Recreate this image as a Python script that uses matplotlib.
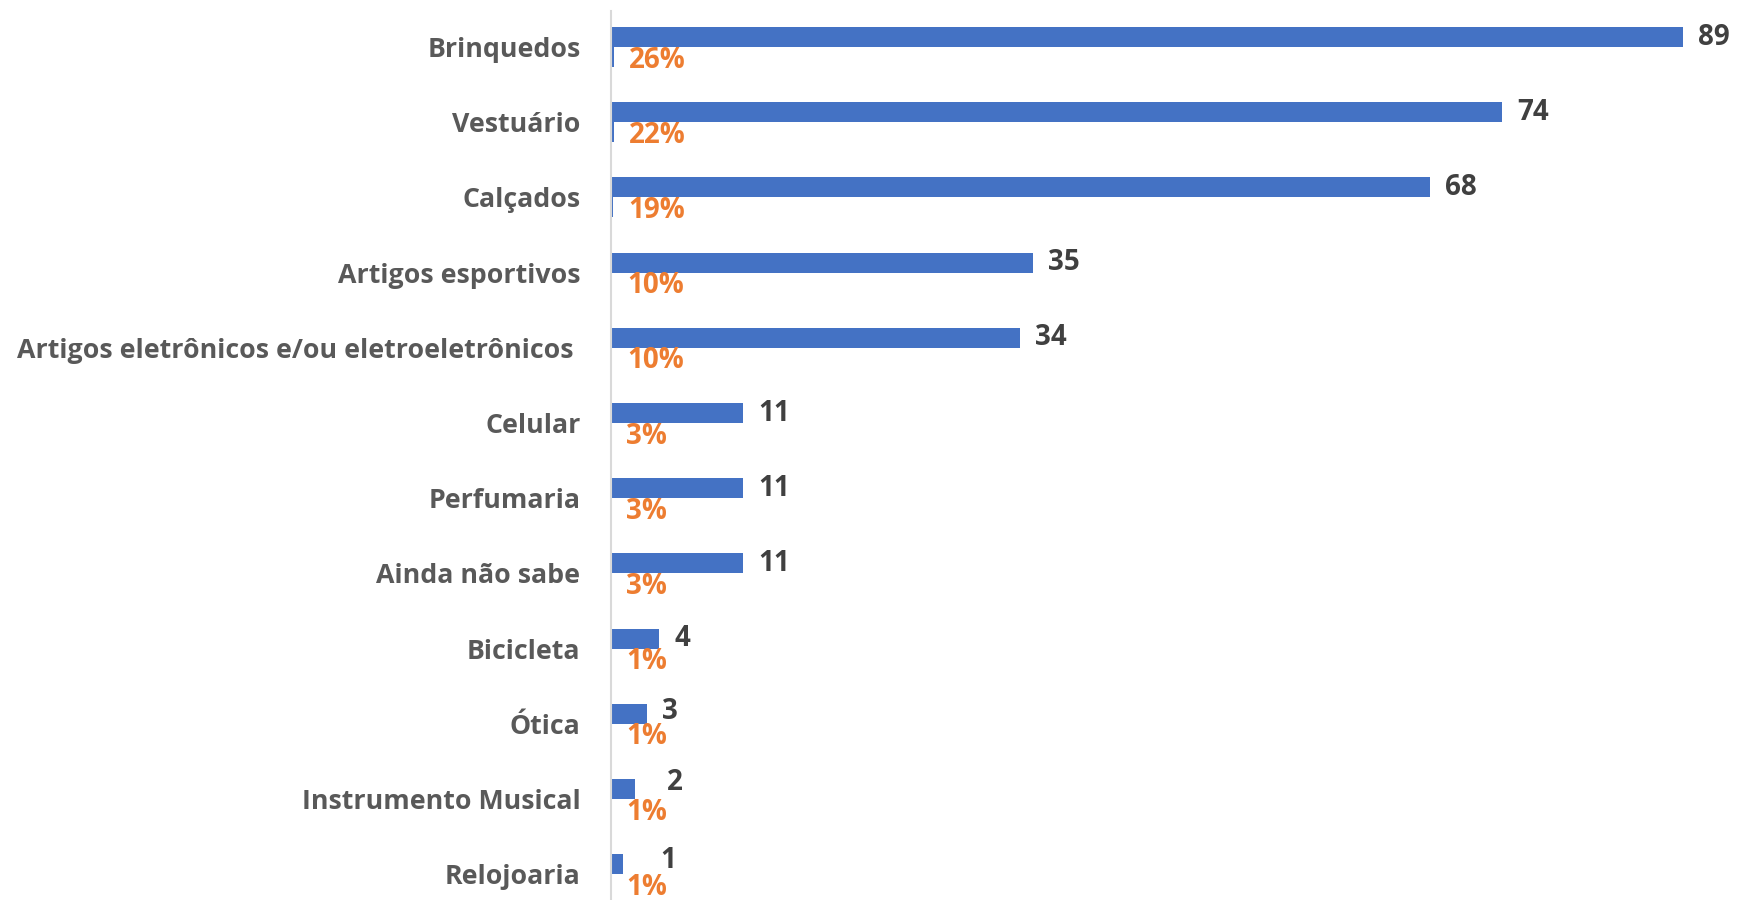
import numpy as np
import matplotlib.pyplot as plt

# categorias e valores
categorias = ["Brinquedos", "Vestuário", "Calçados", "Artigos esportivos",
              "Artigos eletrônicos e/ou eletroeletrônicos ", "Celular", "Perfumaria",
              "Ainda não sabe", "Bicicleta", "Ótica", "Instrumento Musical", "Relojoaria"]
quantidade = [89, 74, 68, 35, 34, 11, 11, 11, 4, 3, 2, 1]
percentual = [0.26, 0.22, 0.19, 0.10, 0.10, 0.03, 0.03, 0.03, 0.01, 0.01, 0.01, 0.01]

azul = "#4472C4"
laranja = "#ED7D31"

plt.rcParams['font.family'] = ['Open Sans', 'DejaVu Sans']

fig = plt.figure(figsize=(17.38, 9), dpi=100)
ax = fig.add_axes([611/1738, 0, 1120/1738, 889/900])

y = np.arange(len(categorias))
h = 0.266
ax.barh(y - 0.133, quantidade, height=h, color=azul)
ax.barh(y + 0.133, percentual, height=h, color=azul)

# rótulos dos valores (os menores foram deslocados à mão, como no original)
for i, (q, p) in enumerate(zip(quantidade, percentual)):
    dx, dy = 15, 0
    if q == 3:
        dy = 2
    if q == 2:
        dx, dy = 32, 7
    if q == 1:
        dx, dy = 37, 4
    ax.annotate(str(q), (q, i - 0.133), xytext=(dx * 0.72, dy * 0.72), textcoords="offset points",
                ha="left", va="center", fontsize=20, fontweight="bold", color="#404040")
    ax.annotate(f"{p:.0%}", (p, i + 0.133), xytext=(15 * 0.72, -3 * 0.72), textcoords="offset points",
                ha="left", va="center", fontsize=20, fontweight="bold", color=laranja)

ax.set_xlim(0, 93)
ax.set_ylim(11.343, -0.479)
ax.set_yticks(y)
ax.set_yticklabels(categorias, fontsize=19.3, fontweight="bold", color="#595959")
ax.tick_params(axis="y", length=0, pad=22)
ax.set_xticks([])
for s in ["top", "right", "bottom"]:
    ax.spines[s].set_visible(False)
ax.spines["left"].set_color("#D9D9D9")
ax.spines["left"].set_linewidth(1.5)

plt.savefig("out.png", dpi=100)
